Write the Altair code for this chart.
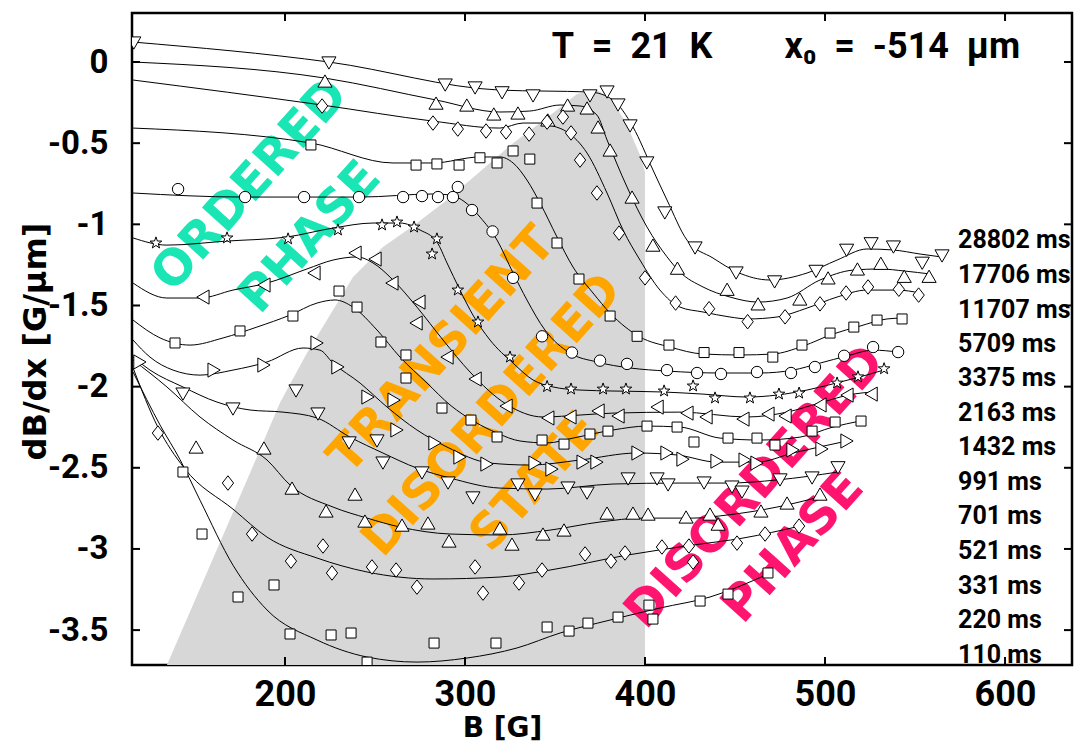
import altair as alt
import pandas as pd

# ---------------- frame ----------------
B_MIN, B_MAX = 115.0, 637.2
Y_MIN, Y_MAX = -3.715, 0.302
PLOT_W, PLOT_H = 940, 652

x_ticks = [200, 300, 400, 500, 600]
y_ticks = [-3.5, -3.0, -2.5, -2.0, -1.5, -1.0, -0.5, 0.0]

# ---------------- series (waiting time after field step) ----------------
series_names = ["28802 ms", "17706 ms", "11707 ms", "5709 ms", "3375 ms", "2163 ms",
                "1432 ms", "991 ms", "701 ms", "521 ms", "331 ms", "220 ms", "110 ms"]
label_y = [-1.097, -1.312, -1.528, -1.737, -1.947, -2.163, -2.372,
           -2.588, -2.797, -3.013, -3.229, -3.438, -3.654]
label_b = [573.9] * len(series_names)

# measured points
b_28802 = [116.0, 224.4, 289.0, 305.6, 320.6, 337.8, 369.4, 378.9, 385.0, 391.7, 401.0, 411.0,
           427.8, 450.6, 472.0, 495.0, 512.0, 525.6, 538.0, 554.0, 565.0]
y_28802 = [0.117, -0.006, -0.142, -0.160, -0.190, -0.209, -0.209, -0.185, -0.265, -0.394, -0.622, -0.930,
           -1.146, -1.300, -1.355, -1.290, -1.160, -1.120, -1.140, -1.240, -1.195]

b_17706 = [222.2, 283.9, 301.0, 316.0, 329.4, 346.0, 357.0, 367.8, 373.9, 380.6, 392.8, 404.4,
           418.0, 445.6, 462.8, 486.0, 501.7, 518.0, 531.0, 544.0, 557.8]
y_17706 = [-0.117, -0.253, -0.265, -0.320, -0.314, -0.357, -0.265, -0.283, -0.400, -0.542, -0.832, -1.128,
           -1.270, -1.400, -1.490, -1.460, -1.330, -1.275, -1.240, -1.320, -1.320]

b_11707 = [220.6, 282.2, 296.0, 311.7, 322.8, 335.6, 345.6, 354.4, 358.9, 363.9, 373.3, 385.6,
           400.0, 417.0, 435.6, 457.0, 477.8, 497.2, 511.7, 523.9, 541.0, 552.0]
y_11707 = [-0.271, -0.376, -0.413, -0.425, -0.431, -0.444, -0.370, -0.339, -0.437, -0.604, -0.807, -1.054,
           -1.330, -1.485, -1.520, -1.600, -1.570, -1.490, -1.423, -1.386, -1.400, -1.436]

b_5709 = [214.4, 272.8, 284.4, 296.7, 308.3, 317.8, 326.7, 336.0, 340.0, 351.1, 363.3, 380.6,
          395.6, 413.3, 432.8, 452.2, 471.0, 487.2, 502.8, 516.0, 528.9, 542.8]
y_5709 = [-0.511, -0.635, -0.628, -0.635, -0.590, -0.622, -0.548, -0.598, -0.869, -1.115, -1.337, -1.565,
          -1.690, -1.744, -1.790, -1.790, -1.818, -1.744, -1.670, -1.633, -1.590, -1.583]

b_3375 = [140.6, 177.8, 210.6, 241.1, 265.6, 276.1, 285.0, 293.3, 296.0, 303.9, 315.3, 326.7, 342.8,
          359.4, 375.0, 390.0, 412.2, 428.9, 442.2, 462.2, 481.1, 494.4, 510.6, 526.7, 540.6]
y_3375 = [-0.783, -0.832, -0.832, -0.832, -0.832, -0.826, -0.832, -0.832, -0.770, -0.912, -1.044, -1.330, -1.690,
          -1.790, -1.840, -1.860, -1.898, -1.916, -1.922, -1.910, -1.916, -1.879, -1.810, -1.756, -1.787]

b_2163 = [128.3, 167.8, 201.7, 229.4, 253.9, 262.2, 271.7, 284.4, 281.7, 296.0, 307.2, 325.0, 345.6,
          358.9, 376.7, 389.4, 410.6, 426.7, 438.9, 458.3, 474.4, 485.6, 506.7, 518.3, 532.8]
y_2163 = [-1.115, -1.084, -1.090, -1.035, -1.004, -0.986, -1.017, -1.090, -1.183, -1.405, -1.602, -1.818, -2.000,
          -2.015, -2.015, -2.015, -2.027, -1.996, -2.070, -2.070, -2.046, -2.040, -1.978, -1.940, -1.890]

b_1432 = [154.4, 188.3, 216.1, 238.9, 250.0, 259.4, 274.4, 272.8, 290.0, 305.6, 322.8, 346.0,
          358.3, 373.9, 385.0, 406.7, 423.3, 433.9, 454.4, 468.3, 477.8, 497.2, 512.2, 525.6]
y_1432 = [-1.448, -1.374, -1.300, -1.177, -1.214, -1.362, -1.479, -1.608, -1.818, -1.953, -2.120, -2.193,
          -2.187, -2.150, -2.181, -2.126, -2.163, -2.187, -2.200, -2.169, -2.181, -2.113, -2.052, -2.046]

b_991 = [138.9, 175.0, 204.4, 230.0, 240.0, 253.3, 267.2, 267.2, 287.2, 303.3, 317.8, 342.8,
         355.0, 369.4, 379.4, 401.1, 417.8, 427.2, 446.1, 462.2, 472.2, 492.8, 505.6, 520.0]
y_991 = [-1.731, -1.657, -1.565, -1.411, -1.510, -1.725, -1.805, -1.947, -2.132, -2.206, -2.310, -2.329,
         -2.354, -2.292, -2.274, -2.243, -2.249, -2.341, -2.317, -2.317, -2.360, -2.274, -2.218, -2.212]

b_701 = [119.4, 160.6, 188.3, 217.8, 229.4, 246.1, 260.6, 262.2, 283.3, 297.2, 312.2, 338.9,
         348.3, 365.6, 373.3, 396.1, 412.2, 421.1, 440.0, 455.6, 462.2, 482.2, 498.3, 512.2]
y_701 = [-1.848, -1.898, -1.867, -1.731, -1.879, -2.064, -2.083, -2.267, -2.347, -2.434, -2.477, -2.471,
         -2.508, -2.465, -2.465, -2.409, -2.409, -2.447, -2.459, -2.452, -2.471, -2.390, -2.384, -2.335]

b_521 = [143.3, 171.1, 206.1, 218.3, 235.6, 251.1, 254.4, 276.1, 290.6, 304.4, 329.4, 338.9,
         357.2, 367.8, 390.6, 406.7, 412.8, 432.8, 448.3, 453.9, 475.0, 492.8, 507.2]
y_521 = [-2.046, -2.138, -2.027, -2.169, -2.347, -2.335, -2.471, -2.532, -2.594, -2.686, -2.606, -2.668,
         -2.625, -2.656, -2.569, -2.569, -2.606, -2.594, -2.619, -2.650, -2.575, -2.563, -2.500]

b_331 = [150.6, 188.3, 203.9, 222.8, 238.9, 244.4, 265.0, 279.4, 291.1, 319.4, 326.1, 343.3,
         355.0, 378.9, 393.3, 401.7, 422.8, 436.1, 440.6, 464.4, 478.9, 497.2]
y_331 = [-2.372, -2.378, -2.625, -2.766, -2.662, -2.828, -2.853, -2.840, -2.951, -2.871, -2.970, -2.908,
         -2.883, -2.779, -2.779, -2.785, -2.803, -2.785, -2.847, -2.766, -2.717, -2.662]

b_220 = [129.4, 168.3, 181.7, 203.3, 221.1, 226.1, 248.3, 261.7, 273.3, 305.6, 310.0, 330.0,
         342.8, 366.7, 381.1, 388.9, 409.4, 424.4, 426.7, 451.1, 466.7, 485.6]
y_220 = [-2.286, -2.594, -2.908, -3.075, -2.982, -3.148, -3.111, -3.130, -3.235, -3.111, -3.272, -3.210,
         -3.130, -3.031, -3.075, -3.025, -2.988, -2.982, -3.081, -2.964, -2.908, -2.859]

b_110 = [143.3, 153.9, 173.9, 193.9, 202.8, 225.6, 236.7, 245.6, 282.8, 317.2, 345.6, 357.8,
         368.3, 385.0, 402.2, 404.4, 430.6, 446.1, 468.3]
y_110 = [-2.526, -2.908, -3.296, -3.222, -3.524, -3.530, -3.518, -3.697, -3.580, -3.580, -3.481, -3.506,
         -3.457, -3.420, -3.346, -3.432, -3.321, -3.278, -3.148]

# smooth fits through each data set
fb_28802 = [115.6, 224.4, 319.4, 369.4, 382.2, 393.3, 404.4, 412.2, 423.3, 437.8, 451.1, 469.4,
            490.0, 506.7, 523.3, 537.8, 552.8, 563.9]
fy_28802 = [0.123, 0.0, -0.173, -0.185, -0.234, -0.40, -0.665, -0.85, -1.097, -1.208, -1.294, -1.343,
            -1.30, -1.22, -1.152, -1.158, -1.183, -1.20]

fb_17706 = [115.6, 222.2, 283.9, 319.4, 336.0, 352.8, 363.9, 373.3, 378.9, 390.0, 401.1, 412.2,
            419.4, 432.2, 447.2, 462.8, 478.9, 497.2, 515.6, 530.6, 544.4, 558.3]
fy_17706 = [0.0, -0.099, -0.234, -0.308, -0.302, -0.265, -0.271, -0.327, -0.48, -0.77, -1.017, -1.20,
            -1.294, -1.386, -1.448, -1.479, -1.454, -1.343, -1.282, -1.275, -1.288, -1.306]

fb_11707 = [115.6, 220.6, 282.2, 319.4, 332.2, 341.7, 348.9, 356.7, 367.8, 378.9, 387.8, 397.2,
            408.3, 419.4, 432.2, 447.2, 457.2, 473.3, 490.0, 506.7, 523.3, 540.0, 552.8]
fy_11707 = [-0.111, -0.265, -0.364, -0.407, -0.376, -0.376, -0.394, -0.431, -0.561, -0.807, -1.035, -1.22,
            -1.405, -1.51, -1.54, -1.571, -1.583, -1.571, -1.516, -1.448, -1.405, -1.405, -1.423]

fb_5709 = [115.6, 214.4, 260.0, 282.2, 308.3, 319.4, 326.7, 334.4, 341.7, 351.1, 360.0, 371.1,
           380.6, 397.2, 413.9, 432.2, 452.8, 471.1, 487.8, 504.4, 519.4, 534.4, 543.3]
fy_5709 = [-0.407, -0.499, -0.622, -0.622, -0.585, -0.585, -0.622, -0.727, -0.869, -1.078, -1.263, -1.423,
           -1.547, -1.694, -1.756, -1.799, -1.805, -1.799, -1.75, -1.676, -1.627, -1.583, -1.577]

fb_3375 = [115.6, 176.7, 241.7, 282.2, 291.7, 300.0, 308.3, 317.8, 326.7, 334.4, 344.4, 358.3,
           373.3, 391.7, 412.2, 441.7, 463.9, 482.2, 497.2, 512.2, 526.7, 540.6]
fy_3375 = [-0.807, -0.832, -0.832, -0.813, -0.819, -0.863, -0.955, -1.097, -1.30, -1.466, -1.651, -1.793,
           -1.848, -1.885, -1.904, -1.916, -1.916, -1.898, -1.855, -1.811, -1.775, -1.787]

fb_2163 = [115.6, 134.4, 167.8, 201.1, 226.7, 248.9, 263.9, 275.0, 284.4, 290.0, 297.2, 304.4, 313.9,
           326.7, 337.8, 348.9, 363.9, 382.2, 410.0, 432.2, 456.7, 473.3, 490.0, 508.3, 523.3, 534.4]
fy_2163 = [-1.084, -1.128, -1.103, -1.078, -1.023, -0.992, -0.992, -1.035, -1.109, -1.238, -1.405, -1.559, -1.713,
           -1.855, -1.959, -2.002, -2.021, -2.027, -2.033, -2.046, -2.064, -2.052, -2.021, -1.972, -1.928, -1.892]

fb_1432 = [115.6, 134.4, 152.8, 171.1, 190.0, 212.2, 226.7, 240.0, 248.9, 260.0, 273.3, 287.8,
           302.8, 322.8, 343.3, 363.9, 382.2, 419.4, 456.7, 478.9, 497.2, 515.6, 526.7]
fy_1432 = [-1.362, -1.454, -1.454, -1.405, -1.362, -1.275, -1.22, -1.201, -1.238, -1.343, -1.51, -1.713,
           -1.91, -2.107, -2.187, -2.175, -2.163, -2.157, -2.187, -2.157, -2.10, -2.046, -2.033]

fb_991 = [115.6, 130.6, 147.2, 165.6, 184.4, 202.8, 217.8, 227.8, 237.8, 251.1, 263.9, 278.9, 291.7,
          305.6, 317.8, 330.6, 345.6, 360.0, 382.2, 401.1, 419.4, 441.7, 463.9, 486.1, 504.4, 519.4]
fy_991 = [-1.59, -1.70, -1.744, -1.70, -1.633, -1.559, -1.485, -1.466, -1.51, -1.651, -1.818, -1.978, -2.113,
          -2.218, -2.286, -2.335, -2.347, -2.317, -2.267, -2.243, -2.249, -2.317, -2.329, -2.311, -2.249, -2.212]

fb_701 = [115.6, 125.0, 137.8, 152.8, 171.1, 190.0, 210.0, 219.4, 226.7, 241.7, 256.7, 273.3,
          290.0, 313.9, 336.1, 363.9, 395.6, 417.8, 440.0, 462.2, 482.2, 512.2]
fy_701 = [-1.713, -1.818, -1.898, -1.929, -1.898, -1.848, -1.762, -1.775, -1.855, -1.978, -2.126, -2.267,
          -2.372, -2.471, -2.483, -2.452, -2.409, -2.421, -2.465, -2.465, -2.409, -2.335]

fb_521 = [115.6, 125.0, 143.3, 162.2, 180.6, 198.9, 217.8, 236.1, 254.4, 273.3, 291.7, 319.4,
          345.6, 382.2, 419.4, 445.6, 473.3, 507.2]
fy_521 = [-1.818, -1.898, -2.002, -2.095, -2.144, -2.157, -2.193, -2.311, -2.409, -2.502, -2.563, -2.625,
          -2.631, -2.60, -2.594, -2.594, -2.575, -2.526]

fb_331 = [115.6, 134.4, 152.8, 171.1, 190.0, 202.8, 226.7, 245.6, 263.9, 291.7, 319.4, 347.2,
          375.0, 398.9, 426.7, 445.6, 473.3, 498.9]
fy_331 = [-1.836, -2.002, -2.187, -2.329, -2.452, -2.606, -2.742, -2.81, -2.865, -2.908, -2.914, -2.884,
          -2.834, -2.81, -2.81, -2.791, -2.742, -2.674]

fb_220 = [115.6, 129.4, 143.9, 171.7, 190.0, 217.8, 245.6, 282.2, 319.4, 347.2, 390.0, 426.7, 454.4, 486.1]
fy_220 = [-1.885, -2.25, -2.50, -2.76, -2.927, -3.056, -3.142, -3.185, -3.173, -3.13, -3.038, -2.976,
          -2.933, -2.859]

fb_110 = [115.6, 130.6, 141.7, 152.8, 171.1, 190.0, 217.8, 245.6, 273.3, 301.1, 328.9, 352.8,
          380.6, 408.3, 436.1, 468.3]
fy_110 = [-1.91, -2.237, -2.45, -2.70, -3.10, -3.376, -3.561, -3.666, -3.697, -3.672, -3.61, -3.518,
          -3.438, -3.364, -3.296, -3.155]

# upper edge of the grey band marking the transient disordered state
shade_b = [134.4, 178.9, 197.2, 212.2, 237.8, 254.4, 271.1, 290.0, 326.7, 348.9, 362.2, 373.3,
           381.7, 390.0, 397.2, 400.0]
shade_y = [-3.715, -2.575, -2.10, -1.793, -1.325, -1.14, -1.01, -0.85, -0.50, -0.314, -0.197, -0.173,
           -0.234, -0.388, -0.573, -0.678]

# phase annotations
phase_text = ["ORDERED", "PHASE", "TRANSIENT", "DISORDERED", "STATE", "DISORDERED", "PHASE"]
phase_b = [180.6, 213.9, 287.2, 315.0, 338.9, 461.1, 482.2]
phase_y = [-0.758, -1.080, -1.775, -2.175, -2.588, -2.619, -2.988]
phase_col = ["#19e6b4", "#19e6b4", "#ffa500", "#ffa500", "#ffa500", "#ff1470", "#ff1470"]

# ---------------- assemble tables ----------------
STAR = ("M0,-1L0.235,-0.324L0.951,-0.309L0.38,0.124L0.588,0.809L0,0.4L-0.588,0.809"
        "L-0.38,0.124L-0.951,-0.309L-0.235,-0.324Z")
DIAMOND = "M0,-1L0.78,0L0,1L-0.78,0Z"

marker_of = {
    "28802 ms": ("triangle-down", 200), "17706 ms": ("triangle-up", 200),
    "11707 ms": (DIAMOND, 210), "5709 ms": ("square", 100), "3375 ms": ("circle", 130),
    "2163 ms": (STAR, 150), "1432 ms": ("triangle-left", 200), "991 ms": ("square", 100),
    "701 ms": ("triangle-right", 200), "521 ms": ("triangle-down", 200),
    "331 ms": ("triangle-up", 200), "220 ms": (DIAMOND, 210), "110 ms": ("square", 100),
}

points_of = {
    "28802 ms": (b_28802, y_28802), "17706 ms": (b_17706, y_17706), "11707 ms": (b_11707, y_11707),
    "5709 ms": (b_5709, y_5709), "3375 ms": (b_3375, y_3375), "2163 ms": (b_2163, y_2163),
    "1432 ms": (b_1432, y_1432), "991 ms": (b_991, y_991), "701 ms": (b_701, y_701),
    "521 ms": (b_521, y_521), "331 ms": (b_331, y_331), "220 ms": (b_220, y_220),
    "110 ms": (b_110, y_110),
}
fits_of = {
    "28802 ms": (fb_28802, fy_28802), "17706 ms": (fb_17706, fy_17706), "11707 ms": (fb_11707, fy_11707),
    "5709 ms": (fb_5709, fy_5709), "3375 ms": (fb_3375, fy_3375), "2163 ms": (fb_2163, fy_2163),
    "1432 ms": (fb_1432, fy_1432), "991 ms": (fb_991, fy_991), "701 ms": (fb_701, fy_701),
    "521 ms": (fb_521, fy_521), "331 ms": (fb_331, fy_331), "220 ms": (fb_220, fy_220),
    "110 ms": (fb_110, fy_110),
}

pt_rows, fit_rows = [], []
for name in series_names:
    shp, sz = marker_of[name]
    bs, ys_ = points_of[name]
    for b, y in zip(bs, ys_):
        pt_rows.append({"B": b, "Y": y, "series": name, "shape": shp, "size": sz})
    fbs, fys = fits_of[name]
    for i, (b, y) in enumerate(zip(fbs, fys)):
        fit_rows.append({"B": b, "Y": y, "series": name, "idx": i})

pts_df = pd.DataFrame(pt_rows)
fit_df = pd.DataFrame(fit_rows)
shade_df = pd.DataFrame({"B": shade_b, "Y": shade_y, "base": [Y_MIN] * len(shade_b)})
phase_df = pd.DataFrame({"B": phase_b, "Y": phase_y, "txt": phase_text, "col": phase_col})
lab_df = pd.DataFrame({"B": label_b, "Y": label_y, "txt": series_names})
info_df = pd.DataFrame({"B": [392.8, 543.0], "Y": [0.092, 0.092],
                        "txt": ["T\u00a0\u00a0=\u00a0\u00a021\u00a0\u00a0K",
                                "x\u2080\u00a0\u00a0=\u00a0\u00a0-514\u00a0\u00a0\u03bcm"]})
ytick_df = pd.DataFrame({"Y": y_ticks})
xtick_df = pd.DataFrame({"B": x_ticks})

# ---------------- encodings ----------------
xs = alt.Scale(domain=[B_MIN, B_MAX], nice=False, zero=False)
ys = alt.Scale(domain=[Y_MIN, Y_MAX], nice=False, zero=False)

x_axis = alt.Axis(values=x_ticks, title="B [G]", grid=False, ticks=False, domain=False,
                  labelFont="Roboto", labelFontSize=36, labelFontWeight="bold", labelColor="black",
                  labelPadding=12, labelFlush=False,
                  titleFont="DejaVu Sans", titleFontSize=28, titleFontWeight="bold", titleColor="black",
                  titleX=370, titleY=63, titleBaseline="middle", titleAlign="center")
y_axis = alt.Axis(values=y_ticks, title="dB/dx [G/\u03bcm]", grid=False, ticks=False, domain=False,
                  labelExpr="datum.value == 0 ? '0' : '' + datum.value",
                  labelFont="Roboto", labelFontSize=33, labelFontWeight="bold", labelColor="black",
                  labelPadding=24, labelFlush=False,
                  titleFont="DejaVu Sans", titleFontSize=32, titleFontWeight="bold", titleColor="black",
                  titleAngle=270, titleX=-97, titleY=328, titleAlign="center", titleBaseline="middle")

X = alt.X("B:Q", scale=xs, axis=x_axis)
Y = alt.Y("Y:Q", scale=ys, axis=y_axis)

shade = alt.Chart(shade_df).mark_area(color="#d7d7d7", interpolate="linear", clip=True).encode(
    x=X, y=Y, y2=alt.Y2("base:Q"))

phase = alt.Chart(phase_df).mark_text(
    angle=312, align="center", baseline="middle", font="DejaVu Sans",
    fontSize=49, fontWeight="bold").encode(
    x=X, y=Y, text="txt:N", color=alt.Color("col:N", scale=None))

fits = alt.Chart(fit_df).mark_line(color="black", strokeWidth=1, interpolate="monotone",
                                   clip=True).encode(
    x=X, y=Y, detail="series:N", order="idx:Q")

points = alt.Chart(pts_df).mark_point(filled=True, fill="white", stroke="black", strokeWidth=1,
                                      opacity=1, clip=True).encode(
    x=X, y=Y, shape=alt.Shape("shape:N", scale=None), size=alt.Size("size:Q", scale=None))

labels = alt.Chart(lab_df).mark_text(align="left", baseline="middle", font="Roboto",
                                     fontSize=25, fontWeight="bold", color="black").encode(
    x=X, y=Y, text="txt:N")

info = alt.Chart(info_df).mark_text(align="center", baseline="middle", font="Roboto",
                                    fontSize=36, fontWeight="bold", color="black").encode(
    x=X, y=Y, text="txt:N")

TICK = 8
left_ticks = alt.Chart(ytick_df).mark_rule(color="black", strokeWidth=2).encode(
    y=Y, x=alt.value(0), x2=alt.value(TICK))
right_ticks = alt.Chart(ytick_df).mark_rule(color="black", strokeWidth=2).encode(
    y=Y, x=alt.value(PLOT_W), x2=alt.value(PLOT_W - TICK))
bottom_ticks = alt.Chart(xtick_df).mark_rule(color="black", strokeWidth=2).encode(
    x=X, y=alt.value(PLOT_H), y2=alt.value(PLOT_H - TICK))
top_ticks = alt.Chart(xtick_df).mark_rule(color="black", strokeWidth=2).encode(
    x=X, y=alt.value(0), y2=alt.value(TICK))

chart = alt.layer(
    shade, phase, fits, points, labels, info,
    left_ticks, right_ticks, bottom_ticks, top_ticks,
).properties(
    width=PLOT_W, height=PLOT_H,
    padding={"left": 132, "top": 13, "right": 5, "bottom": 77},
    autosize=alt.AutoSizeParams(type="none"),
    background="white",
).configure_view(stroke="black", strokeWidth=2.5)

chart.save("out.html", embed_options={"renderer": "svg", "actions": False})
